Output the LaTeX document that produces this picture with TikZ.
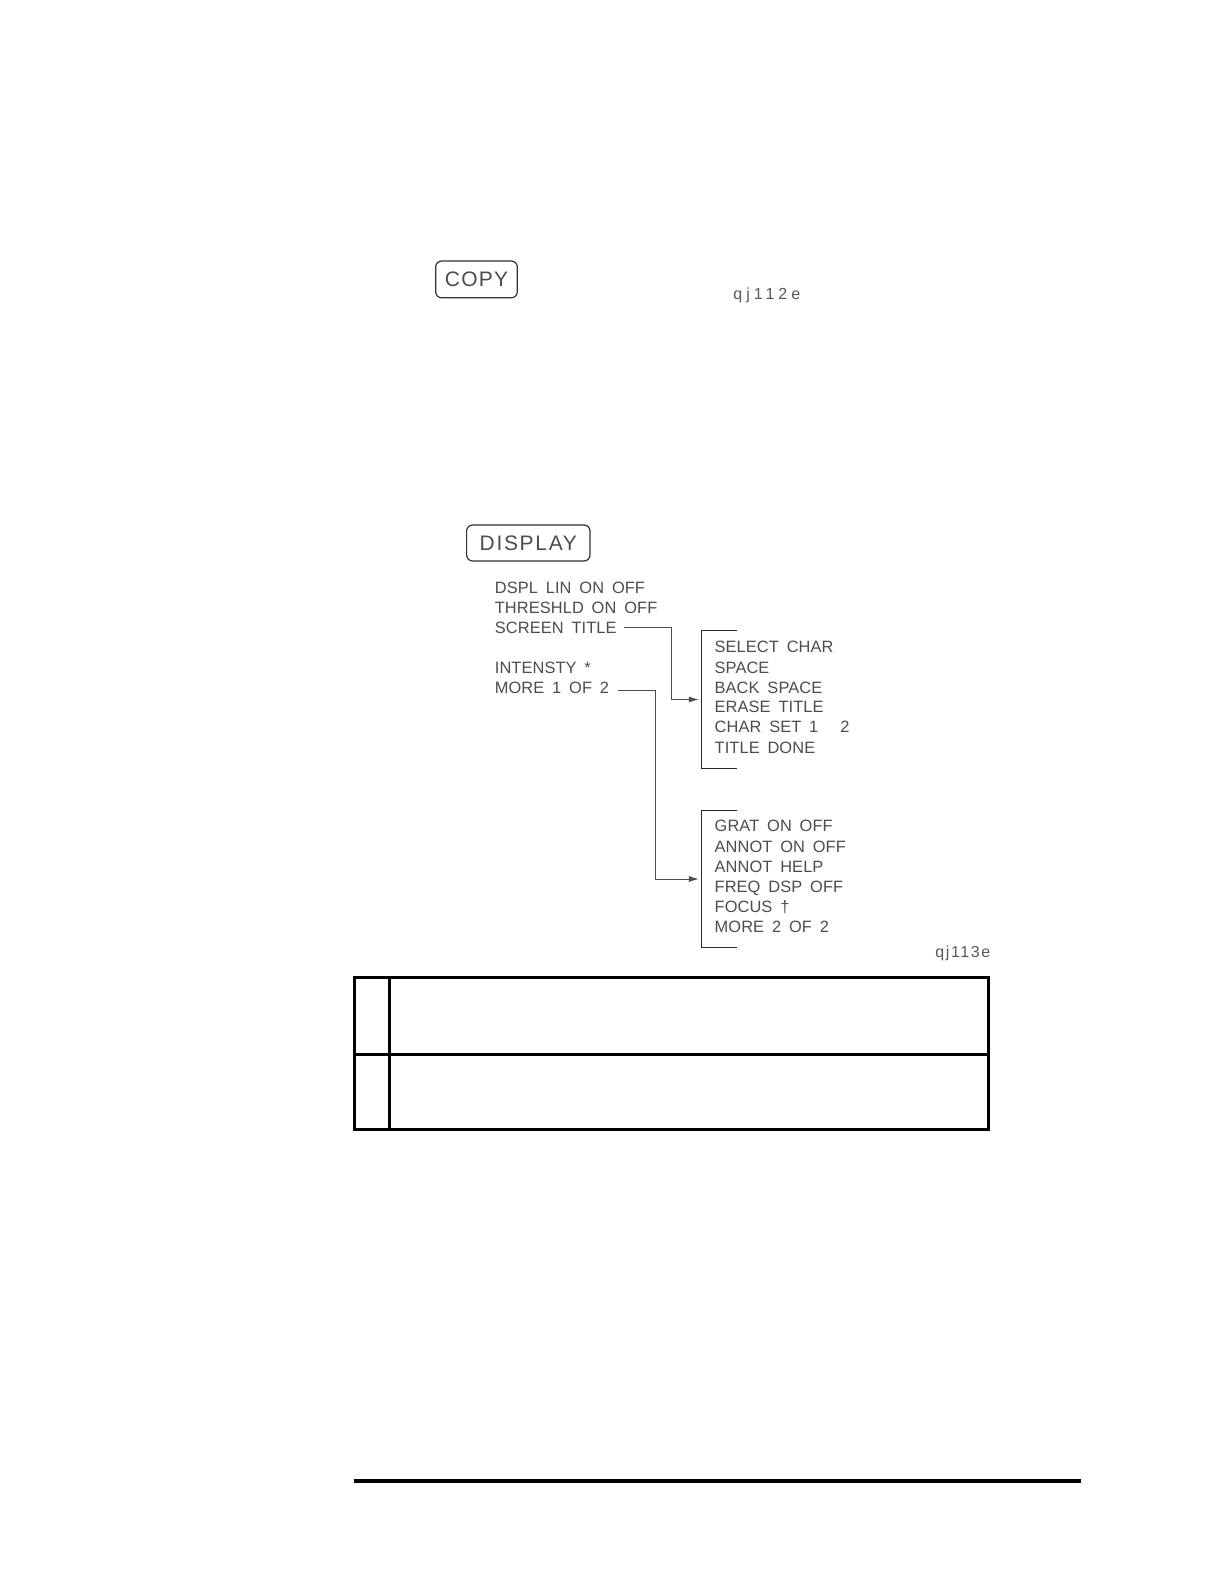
\documentclass[tikz,border=0pt]{standalone}
\usepackage{fontspec}
\setmainfont{Liberation Sans}
\newfontfamily\menufont[WordSpace=1.7,LetterSpace=0.5]{Liberation Sans}
\usetikzlibrary{arrows.meta}
\usetikzlibrary{positioning}

\begin{document}
\begin{tikzpicture}[
    x=0.5pt, y=-0.5pt,
    keybox/.style={
        draw=black!80, rounded corners=3pt, line width=0.6pt,
        inner sep=0pt, text height=7.5pt, text depth=0pt,
        font=\fontsize{10.5}{12}\selectfont, text=black!70
    },
    item/.style={
        anchor=west, inner sep=0pt, text height=6pt, text depth=0pt,
        font=\menufont\fontsize{8.2}{10}\selectfont,
        text=black!70
    },
    brk/.style={inner sep=0pt, minimum width=17pt},
    bracket/.style={draw=black!85, line width=0.6pt},
    conn/.style={
        black!70, line width=0.4pt,
        -{Latex[length=5pt,width=3pt]}, shorten >=1.5pt
    },
    tag/.style={
        anchor=base west, inner sep=0pt, text=black!65,
        font=\fontsize{8}{10}\selectfont
    }
]
\useasboundingbox (0,0) rectangle (1224,1582);

% keys
\node[keybox, minimum width=40.8pt, minimum height=18.4pt] (copy) at (476.5,279.4) {\addfontfeature{LetterSpace=6}COPY};
\node[tag] (tagcopy) at (733,300) {\addfontfeature{LetterSpace=25}qj112e};

\node[keybox, minimum width=61.7pt, minimum height=18pt] (display) at (528.3,543) {\addfontfeature{LetterSpace=8}DISPLAY};

% display menu 1 of 2
\node[item] (dspllin) at (494.5,587) {DSPL LIN ON OFF};
\node[item] (threshld) at (494.5,607) {THRESHLD ON OFF};
\node[item] (scrtitle) at (494.5,627) {SCREEN TITLE};
\node[item] (intensty) at (494.5,667) {INTENSTY *};
\node[item] (more1) at (494.5,687) {MORE 1 OF 2};

% screen title menu
\node[brk, minimum height=68.8pt] (titlebrk) at (719.2,699.5) {};
\draw[bracket] (titlebrk.north east) -- (titlebrk.north west) -- (titlebrk.south west) -- (titlebrk.south east);
\node[item] (selchar) at (714.3,646.5) {SELECT CHAR};
\node[item] (space) at (714.3,667) {SPACE};
\node[item] (backspace) at (714.3,687) {BACK SPACE};
\node[item] (erase) at (714.3,706.5) {ERASE TITLE};
\node[item] (charset) at (714.3,726.5) {CHAR SET 1\hspace{11pt}2};
\node[item] (titledone) at (714.3,747.5) {TITLE DONE};

% display menu 2 of 2
\node[brk, minimum height=68.3pt] (gratbrk) at (719.2,879) {};
\draw[bracket] (gratbrk.north east) -- (gratbrk.north west) -- (gratbrk.south west) -- (gratbrk.south east);
\node[item] (grat) at (714.3,825.5) {GRAT ON OFF};
\node[item] (annot) at (714.3,846.5) {ANNOT ON OFF};
\node[item] (annothelp) at (714.3,866.5) {ANNOT HELP};
\node[item] (freqdsp) at (714.3,886.5) {FREQ DSP OFF};
\node[item] (focus) at (714.3,906.5) {FOCUS †};
\node[item] (more2) at (714.3,926.5) {MORE 2 OF 2};

\node[tag] (tagdisp) at (935,957) {\addfontfeature{LetterSpace=10}qj113e};

\coordinate (bendtitle) at (671.5,0);
\coordinate (bendmore) at (655,0);
\draw[conn] ([xshift=3.5pt]scrtitle.east) -- (scrtitle.east -| bendtitle) |- (titlebrk.west);
\draw[conn] ([xshift=4pt,yshift=-1.5pt]more1.east) -- ([yshift=-1.5pt]more1.east -| bendmore) |- (gratbrk.west);

% empty table
\draw[line width=1.5pt] (354.2,977.8) rectangle (988.9,1129.2);
\draw[line width=1.5pt] (354.2,1054.5) -- (988.9,1054.5);
\draw[line width=1.5pt] (389.5,977.8) -- (389.5,1129.2);

% page rule
\draw[line width=2pt] (354,1481.3) -- (1080.7,1481.3);
\end{tikzpicture}
\end{document}
